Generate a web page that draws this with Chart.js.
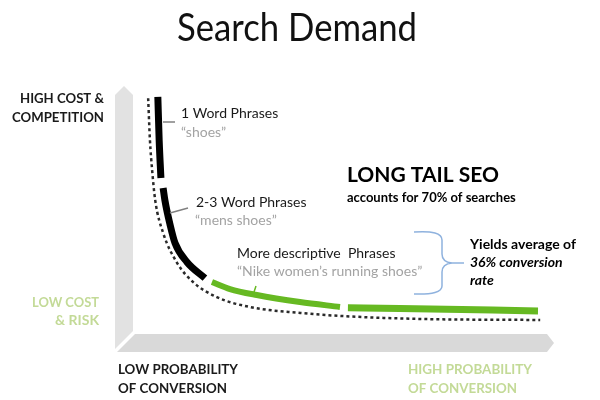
<!DOCTYPE html>
<html>
<head>
<meta charset="utf-8">
<title>Search Demand</title>
<script src="https://cdn.jsdelivr.net/npm/chart.js@4.4.1/dist/chart.umd.min.js"></script>
<style>
  html, body { margin: 0; padding: 0; background: #fff; }
  #wrap { position: relative; width: 600px; height: 400px; }
</style>
</head>
<body>
<div id="wrap"><canvas id="chart"></canvas></div>
<script>
// x = how specific the phrase is (0-100), y = search demand (0-100)
const demandCurve = [[6.4, 93], [6.8, 77], [7.3, 65.4], [8, 53.8], [9.8, 41.2], [13, 29.6], [16.6, 22.3],
  [22, 16.5], [29.5, 12.7], [41, 10.4], [50.7, 9.2], [68, 8.1], [95.5, 7.7]];
const oneWord = [[8.6, 93.5], [8.9, 76.9], [9.3, 62.3]];
const twoThreeWord = [[9.8, 58.5], [10.2, 53.8], [11.4, 44.2], [12.5, 37.3], [15.2, 30], [19.3, 23.8]];
const descriptive = [[20.9, 22.3], [25, 19.6], [31.1, 17.3], [40.9, 14.6], [50, 12.7]];
const longTail = [[51.8, 12.4], [63.6, 12.1], [95, 11.2]];

const FONT = 'Lato, "Open Sans", sans-serif';
const GREEN = '#66b922';
const LIGHT_GREEN = '#c3da97';
const QUOTE_GREY = '#a3a3a3';

const toPoints = arr => arr.map(([x, y]) => ({ x, y }));

function text(ctx, str, x, y, o) {
  ctx.save();
  ctx.font = `${o.style || 'normal'} ${o.weight || 400} ${o.size}px ${FONT}`;
  ctx.fillStyle = o.color || '#1a1a1a';
  ctx.textAlign = o.align || 'left';
  ctx.textBaseline = 'alphabetic';
  if (o.width) ctx.fillText(str, x, y, o.width);
  else ctx.fillText(str, x, y);
  ctx.restore();
}

function line(ctx, pts, color, width) {
  ctx.save();
  ctx.strokeStyle = color;
  ctx.lineWidth = width;
  ctx.beginPath();
  pts.forEach(([x, y], i) => i ? ctx.lineTo(x, y) : ctx.moveTo(x, y));
  ctx.stroke();
  ctx.restore();
}

function poly(ctx, pts, color) {
  ctx.save();
  ctx.fillStyle = color;
  ctx.beginPath();
  pts.forEach(([x, y], i) => i ? ctx.lineTo(x, y) : ctx.moveTo(x, y));
  ctx.closePath();
  ctx.fill();
  ctx.restore();
}

const decorations = {
  id: 'decorations',
  beforeDatasetsDraw(chart) {
    const { ctx, chartArea: a } = chart;
    // 3D-ish grey axes
    poly(ctx, [[a.left - 5, a.top + 15], [a.left + 4, a.top + 6], [a.left + 13, a.top + 15],
      [a.left + 13, a.bottom - 9], [a.left - 5, a.bottom + 9]], '#e2e2e2');
    poly(ctx, [[a.left + 15, a.bottom - 6], [a.right - 13, a.bottom - 6], [a.right - 6, a.bottom + 3],
      [a.right - 13, a.bottom + 12], [a.left - 3, a.bottom + 12]], '#d9d9d9');
  },
  afterDatasetsDraw(chart) {
    const { ctx } = chart;

    text(ctx, 'Search Demand', 297, 41, { size: 38, width: 240, color: '#111', align: 'center' });

    // axis captions
    text(ctx, 'HIGH COST &', 104, 103, { size: 14, weight: 700, align: 'right', width: 84 });
    text(ctx, 'COMPETITION', 104, 122, { size: 14, weight: 700, align: 'right', width: 92 });
    text(ctx, 'LOW COST', 99, 307, { size: 14, weight: 700, align: 'right', width: 67, color: LIGHT_GREEN });
    text(ctx, '& RISK', 99, 325, { size: 14, weight: 700, align: 'right', width: 44, color: LIGHT_GREEN });
    text(ctx, 'LOW PROBABILITY', 118, 374, { size: 14, weight: 700, width: 120 });
    text(ctx, 'OF CONVERSION', 118, 393, { size: 14, weight: 700, width: 109 });
    text(ctx, 'HIGH PROBABILITY', 408, 374, { size: 14, weight: 700, width: 124, color: LIGHT_GREEN });
    text(ctx, 'OF CONVERSION', 408, 393, { size: 14, weight: 700, width: 109, color: LIGHT_GREEN });

    // phrase labels + leaders
    line(ctx, [[163, 122], [175, 122]], '#808080', 1.5);
    text(ctx, '1 Word Phrases', 181, 118, { size: 14, width: 98 });
    text(ctx, '\u201Cshoes\u201D', 181, 137, { size: 14, width: 49, color: QUOTE_GREY });

    line(ctx, [[170, 213], [188, 208]], '#808080', 1.5);
    text(ctx, '2-3 Word Phrases', 196, 207, { size: 14, width: 111 });
    text(ctx, '\u201Cmens shoes\u201D', 195, 225, { size: 14, width: 87, color: QUOTE_GREY });

    line(ctx, [[253, 295], [256, 286]], GREEN, 1.5);
    text(ctx, 'More descriptive  Phrases', 237, 258, { size: 14, width: 163 });
    text(ctx, '\u201CNike women\u2019s running shoes\u201D', 237, 276, { size: 14, width: 190, color: QUOTE_GREY });

    text(ctx, 'LONG TAIL SEO', 347, 182, { size: 21, weight: 700, width: 168, color: '#000' });
    text(ctx, 'accounts for 70% of searches', 347, 202, { size: 13, weight: 700, width: 186, color: '#000' });

    // curly brace
    ctx.save();
    ctx.strokeStyle = '#8fb2de';
    ctx.lineWidth = 1.5;
    ctx.beginPath();
    ctx.moveTo(414, 232);
    ctx.quadraticCurveTo(442, 230, 442, 240);
    ctx.lineTo(442, 254);
    ctx.quadraticCurveTo(442, 262, 452, 263);
    ctx.quadraticCurveTo(442, 264, 442, 272);
    ctx.lineTo(442, 286);
    ctx.quadraticCurveTo(442, 295, 414, 294);
    ctx.moveTo(452, 263);
    ctx.lineTo(464, 263);
    ctx.stroke();
    ctx.restore();

    text(ctx, 'Yields average of', 470, 249, { size: 14, weight: 700, width: 109, color: '#000' });
    text(ctx, '36% conversion', 470, 267, { size: 14, weight: 700, style: 'italic', width: 101, color: '#000' });
    text(ctx, 'rate', 470, 285, { size: 14, weight: 700, style: 'italic', width: 27, color: '#000' });
  }
};

const seg = (data, color, width) => ({
  data: toPoints(data),
  borderColor: color,
  borderWidth: width,
  borderCapStyle: 'butt',
  cubicInterpolationMode: 'monotone',
  pointRadius: 0
});

new Chart(document.getElementById('chart'), {
  type: 'line',
  data: {
    datasets: [
      { ...seg(demandCurve, '#2a2a2a', 2.5), borderDash: [3, 3] },
      seg(oneWord, '#000', 7),
      seg(twoThreeWord, '#000', 7),
      seg(descriptive, GREEN, 6),
      seg(longTail, GREEN, 7)
    ]
  },
  options: {
    responsive: true,
    maintainAspectRatio: false,
    animation: false,
    layout: { padding: { left: 120, right: 40, top: 80, bottom: 60 } },
    scales: {
      x: { type: 'linear', min: 0, max: 100, display: false },
      y: { type: 'linear', min: 0, max: 100, display: false }
    },
    plugins: {
      legend: { display: false },
      tooltip: { enabled: false }
    }
  },
  plugins: [decorations]
});
</script>
</body>
</html>
